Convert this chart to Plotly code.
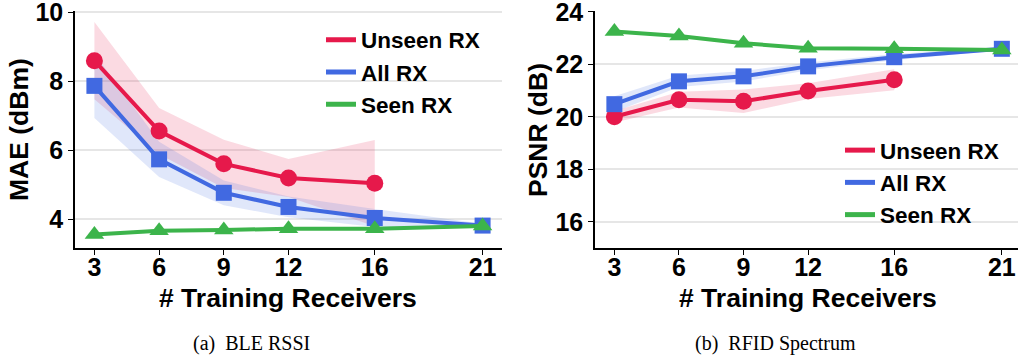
import plotly.graph_objects as go

x_left = [3, 6, 9, 12, 16, 21]
x_unseen = [3, 6, 9, 12, 16]

# (a) BLE RSSI - MAE (dBm)
mae_unseen = [8.59, 6.55, 5.60, 5.19, 5.04]
mae_unseen_sd = [1.12, 0.67, 0.70, 0.55, 1.25]
mae_all = [7.86, 5.73, 4.76, 4.35, 4.03, 3.81]
mae_all_sd = [0.93, 0.51, 0.36, 0.30, 0.26, 0.05]
mae_seen = [3.55, 3.66, 3.68, 3.72, 3.72, 3.80]
mae_seen_sd = [0.04, 0.04, 0.04, 0.04, 0.04, 0.04]

# (b) RFID Spectrum - PSNR (dB)
psnr_unseen = [20.00, 20.65, 20.59, 20.98, 21.41]
psnr_unseen_sd = [0.22, 0.30, 0.45, 0.30, 0.40]
psnr_all = [20.48, 21.35, 21.54, 21.92, 22.27, 22.59]
psnr_all_sd = [0.30, 0.22, 0.20, 0.15, 0.12, 0.05]
psnr_seen = [23.25, 23.08, 22.80, 22.61, 22.59, 22.54]
psnr_seen_sd = [0.06, 0.05, 0.05, 0.05, 0.04, 0.04]

names = ["Unseen RX", "All RX", "Seen RX"]
colors = ["#E6194B", "#4169E1", "#3CB44B"]
fills = ["rgba(230,25,75,0.16)", "rgba(65,105,225,0.16)", "rgba(60,180,75,0.16)"]
symbols = ["circle", "square", "triangle-up"]
msize = [17, 16, 17]

fig = go.Figure()

FONT = "Liberation Sans"

def add_panel(xa, ya, legend, series):
    # bands
    for i, (xs, ys, sd) in enumerate(series):
        up = [y + s for y, s in zip(ys, sd)]
        lo = [y - s for y, s in zip(ys, sd)]
        fig.add_trace(go.Scatter(
            x=list(xs) + list(xs)[::-1], y=up + lo[::-1],
            fill="toself", fillcolor=fills[i], line=dict(width=0),
            mode="lines", hoverinfo="skip", showlegend=False,
            xaxis=xa, yaxis=ya))
    for i, (xs, ys, sd) in enumerate(series):
        fig.add_trace(go.Scatter(
            x=xs, y=ys, mode="lines+markers",
            line=dict(color=colors[i], width=4),
            marker=dict(symbol=symbols[i], size=msize[i], color=colors[i]),
            showlegend=False, xaxis=xa, yaxis=ya))
    for i in range(3):
        fig.add_trace(go.Scatter(
            x=[None], y=[None], mode="lines", name=names[i],
            line=dict(color=colors[i], width=5),
            legend=legend, legendgroup=legend + str(i),
            xaxis=xa, yaxis=ya))

add_panel("x", "y", "legend", [
    (x_unseen, mae_unseen, mae_unseen_sd),
    (x_left, mae_all, mae_all_sd),
    (x_left, mae_seen, mae_seen_sd)])
add_panel("x2", "y2", "legend2", [
    (x_unseen, psnr_unseen, psnr_unseen_sd),
    (x_left, psnr_all, psnr_all_sd),
    (x_left, psnr_seen, psnr_seen_sd)])

W, H = 1019, 357
ytop = 1 - 11 / H
ybot = 1 - 248 / H

axis_common = dict(
    showline=True, linecolor="black", linewidth=1.5,
    ticks="outside", ticklen=5, tickcolor="black",
    tickfont=dict(family=FONT, size=25, color="black", weight="bold"),
    ticklabeloverflow="allow", automargin=False,
    zeroline=False,
)

leg_font = dict(family=FONT, size=22.5, color="black", weight="bold")

fig.update_layout(
    width=W, height=H,
    margin=dict(l=0, r=0, t=0, b=0),
    plot_bgcolor="white", paper_bgcolor="white",
    font=dict(family=FONT, color="black"),
    xaxis=dict(domain=[75 / W, 502 / W], range=[2.1, 21.9], ticklabelstandoff=-9,
               tickvals=x_left, showgrid=False, anchor="y", **axis_common),
    yaxis=dict(domain=[ybot, ytop], range=[3.16, 10.03], tickvals=[4, 6, 8, 10],
               showgrid=True, gridcolor="#e6e6e6", gridwidth=1.5,
               anchor="x", **axis_common),
    xaxis2=dict(domain=[595 / W, 1018 / W], range=[2.1, 21.75], ticklabelstandoff=-9,
                tickvals=x_left, showgrid=False, anchor="y2", **axis_common),
    yaxis2=dict(domain=[ybot, ytop], range=[15, 24.03], tickvals=[16, 18, 20, 22, 24],
                showgrid=True, gridcolor="#e6e6e6", gridwidth=1.5,
                anchor="x2", **axis_common),
    legend=dict(x=321 / W, y=1 - 18.5 / H, xanchor="left", yanchor="top",
                bgcolor="rgba(0,0,0,0)", tracegroupgap=0, itemwidth=30,
                font=leg_font),
    legend2=dict(x=840 / W, y=1 - 129 / H, xanchor="left", yanchor="top",
                 bgcolor="rgba(0,0,0,0)", tracegroupgap=0, itemwidth=30,
                 font=leg_font),
)

title_font = dict(family=FONT, size=26.5, color="black", weight="bold")
cap_font = dict(family="Liberation Serif", size=20, color="black")
annos = [
    dict(text="MAE (dBm)", x=19 / W, y=1 - 130 / H, textangle=-90, font=title_font),
    dict(text="PSNR (dB)", x=538 / W, y=1 - 130 / H, textangle=-90, font=title_font),
    dict(text="# Training Receivers", x=288 / W, y=1 - 298 / H, font=title_font),
    dict(text="# Training Receivers", x=808 / W, y=1 - 298 / H, font=title_font),
    dict(text="(a)  BLE RSSI", x=251 / W, y=1 - 343 / H, font=cap_font),
    dict(text="(b)  RFID Spectrum", x=775 / W, y=1 - 343 / H, font=cap_font),
]
for a in annos:
    fig.add_annotation(xref="paper", yref="paper", showarrow=False,
                       xanchor="center", yanchor="middle", **a)

fig.write_html("out.html", config={"displayModeBar": False},
               post_script="document.body.style.margin='0';document.body.style.padding='0';")
